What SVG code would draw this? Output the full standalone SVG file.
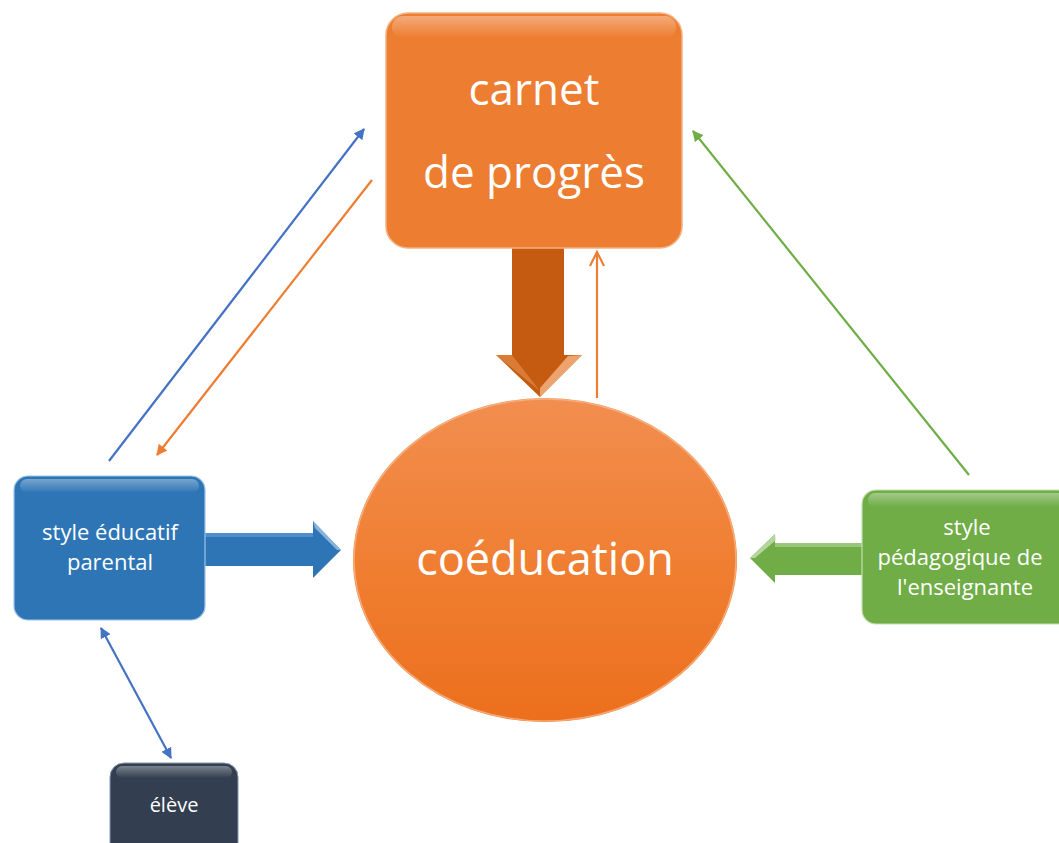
<svg xmlns="http://www.w3.org/2000/svg" width="1059" height="843" viewBox="0 0 1059 843">
<defs>
<style>
.lbl{font-family:"Open Sans","Noto Sans","Liberation Sans",sans-serif;fill:#ffffff;text-anchor:middle}
.big{font-size:44px}
.mid{font-size:22px}
.con{fill:none;stroke-width:2.2}
</style>
<linearGradient id="gEll" x1="0" y1="0" x2="0" y2="1">
<stop offset="0" stop-color="#F28E50"/>
<stop offset="0.5" stop-color="#F07F33"/>
<stop offset="1" stop-color="#EC6F1C"/>
</linearGradient>
<linearGradient id="gHi" x1="0" y1="0" x2="0" y2="1">
<stop offset="0" stop-color="#ffffff" stop-opacity="0.35"/>
<stop offset="1" stop-color="#ffffff" stop-opacity="0"/>
</linearGradient>
<marker id="mBlue" viewBox="0 0 10 10" refX="9" refY="5" markerWidth="5" markerHeight="5" orient="auto-start-reverse" markerUnits="strokeWidth">
<path d="M0,0L10,5L0,10z" fill="#4472C4"/>
</marker>
<marker id="mOrange" viewBox="0 0 10 10" refX="9" refY="5" markerWidth="5" markerHeight="5" orient="auto" markerUnits="strokeWidth">
<path d="M0,0L10,5L0,10z" fill="#ED7D31"/>
</marker>
<marker id="mGreen" viewBox="0 0 10 10" refX="9" refY="5" markerWidth="5" markerHeight="5" orient="auto" markerUnits="strokeWidth">
<path d="M0,0L10,5L0,10z" fill="#70AD47"/>
</marker>
<marker id="mOpen" viewBox="0 0 10 10" refX="9" refY="5" markerWidth="8" markerHeight="8" orient="auto" markerUnits="strokeWidth">
<path d="M1,1L9,5L1,9" fill="none" stroke="#ED7D31" stroke-width="1.2"/>
</marker>
</defs>
<rect width="1059" height="843" fill="#ffffff"/>

<g id="connectors">
<line class="con" x1="109" y1="461" x2="364" y2="129" stroke="#4472C4" marker-end="url(#mBlue)"/>
<line class="con" x1="372" y1="180" x2="157" y2="455" stroke="#ED7D31" marker-end="url(#mOrange)"/>
<line class="con" x1="969" y1="475" x2="693" y2="131" stroke="#70AD47" marker-end="url(#mGreen)"/>
<line class="con" x1="101" y1="628" x2="171" y2="758" stroke="#4472C4" marker-start="url(#mBlue)" marker-end="url(#mBlue)"/>
<line class="con" x1="597" y1="398" x2="597" y2="252" stroke="#ED7D31" marker-end="url(#mOpen)"/>
<g id="arrow-down">
<path d="M512,246 L564,246 L564,355 L582,355 L540,397 L496,355 L512,355 Z" fill="#C55A11"/>
<path d="M496,355 L512,355 L540,391 Z" fill="#E8924F" opacity="0.6"/>
<path d="M540,397 L582,355 L568,356 L540,388 Z" fill="#F5B584" opacity="0.8"/>
</g>
<g id="arrow-blue">
<path d="M205,533 L313,533 L313,521 L341,550 L313,578 L313,566 L205,566 Z" fill="#2E75B6"/>
<path d="M313,521 L341,550 L337,550 L315,528 Z" fill="#9DC3E6" opacity="0.8"/>
<path d="M205,533 L313,533 L313,537 L205,537 Z" fill="#5B9BD5" opacity="0.7"/>
</g>
<g id="arrow-green">
<path d="M862,543 L775,543 L775,534 L750,558 L775,583 L775,575 L862,575 Z" fill="#70AD47"/>
<path d="M775,534 L750,558 L755,558 L776,540 Z" fill="#C5E0B4" opacity="0.8"/>
<path d="M862,543 L775,543 L775,547 L862,547 Z" fill="#A9D18E" opacity="0.7"/>
</g>
</g>

<g id="node-carnet">
<rect x="386" y="13" width="296" height="235" rx="22" fill="#ED7D31"/>
<rect x="392" y="16" width="284" height="22" rx="11" fill="url(#gHi)"/>
<rect x="386" y="13" width="296" height="235" rx="22" fill="none" stroke="#F4B183" stroke-width="1.5"/>
<text class="lbl big" x="534" y="105">carnet</text>
<text class="lbl big" x="534" y="188">de progrès</text>
</g>

<g id="node-coeducation">
<ellipse cx="545" cy="560" rx="192" ry="162" fill="url(#gEll)"/>
<ellipse cx="545" cy="560" rx="191" ry="161" fill="none" stroke="#F8B68A" stroke-width="1.5" opacity="0.8"/>
<text class="lbl" x="545" y="575" font-size="45">coéducation</text>
</g>

<g id="node-parental">
<rect x="14" y="476" width="191" height="144" rx="14" fill="#2E75B6"/>
<rect x="20" y="479" width="179" height="14" rx="7" fill="url(#gHi)"/>
<rect x="14" y="476" width="191" height="144" rx="14" fill="none" stroke="#9DC3E6" stroke-width="1.2"/>
<text class="lbl mid" x="110" y="540">style éducatif</text>
<text class="lbl mid" x="110" y="570">parental</text>
</g>

<g id="node-enseignante">
<rect x="862" y="490" width="210" height="134" rx="14" fill="#70AD47"/>
<rect x="868" y="493" width="198" height="14" rx="7" fill="url(#gHi)"/>
<rect x="862" y="490" width="210" height="134" rx="14" fill="none" stroke="#C5E0B4" stroke-width="1.2"/>
<text class="lbl mid" x="967" y="535">style</text>
<text class="lbl mid" x="960" y="565">pédagogique de</text>
<text class="lbl mid" x="965" y="595">l'enseignante</text>
</g>

<g id="node-eleve">
<rect x="110" y="763" width="128" height="100" rx="14" fill="#333F50"/>
<rect x="116" y="766" width="116" height="12" rx="6" fill="url(#gHi)"/>
<rect x="110" y="763" width="128" height="100" rx="14" fill="none" stroke="#8497B0" stroke-width="1"/>
<text class="lbl" x="174" y="812" font-size="20">élève</text>
</g>
</svg>
